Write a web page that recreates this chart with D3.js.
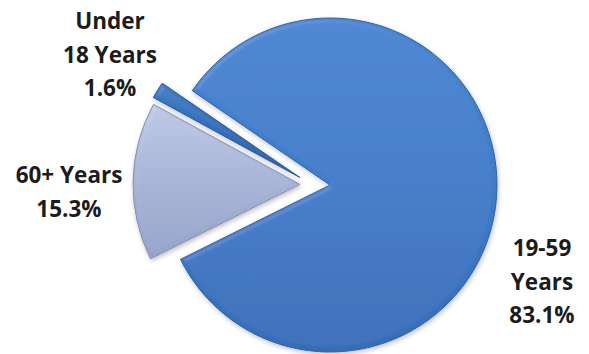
<!DOCTYPE html>
<html>
<head>
<meta charset="utf-8">
<script src="https://cdn.jsdelivr.net/npm/d3@7"></script>
<style>
  html, body { margin: 0; padding: 0; background: #fff; }
  .slice-label { font-family: "Open Sans", Lato, sans-serif; font-weight: 700; font-size: 22.5px; fill: #1c1c1c; }
</style>
</head>
<body>
<div id="chart"></div>
<script>
// data
const ageGroups = ["19-59 Years", "60+ Years", "Under 18 Years"];
const shares = [83.1, 15.3, 1.6];
const labelLines = [["19-59", "Years", "83.1%"], ["60+ Years", "15.3%"], ["Under", "18 Years", "1.6%"]];

const width = 589;
const height = 354;
const radius = 167;
const cx = 330, cy = 185;
const startDeg = -55.6;

// explode distance + direction (deg, 0 = up, clockwise); null = along bisector
const explode = [0, 30, 31];
const explodeDir = [null, null, 284];
// label anchors (middle line) relative to pie centre
const labelPos = [[212, 97], [-261, 7], [-220, -130]];
const lineHeight = 33.5;

const fills = [
  ["#4784d1", "#407cc9", "#356db6"],
  ["#bcc7e4", "#a8b4d7", "#95a3ca"],
  ["#3c79c4", "#3370bb", "#2a60a6"]
];
const strokes = ["#2d61a2", "#8290b4", "#27579a"];

const svg = d3.select("#chart")
  .append("svg")
  .attr("width", width)
  .attr("height", height);

const defs = svg.append("defs");

fills.forEach((c, i) => {
  const g = defs.append("linearGradient")
    .attr("id", "grad" + i)
    .attr("x1", 0).attr("y1", 0).attr("x2", 0).attr("y2", 1);
  g.append("stop").attr("offset", "0%").attr("stop-color", c[0]);
  g.append("stop").attr("offset", "45%").attr("stop-color", c[1]);
  g.append("stop").attr("offset", "100%").attr("stop-color", c[2]);
});

// soft bevel + shadow
const f = defs.append("filter")
  .attr("id", "bevel")
  .attr("x", "-10%").attr("y", "-10%").attr("width", "120%").attr("height", "120%");
f.append("feGaussianBlur").attr("in", "SourceAlpha").attr("stdDeviation", 2.5).attr("result", "blur");
f.append("feSpecularLighting")
  .attr("in", "blur").attr("surfaceScale", 3).attr("specularConstant", 0.5)
  .attr("specularExponent", 20).attr("lighting-color", "#ffffff").attr("result", "spec")
  .append("feDistantLight").attr("azimuth", 235).attr("elevation", 45);
f.append("feComposite").attr("in", "spec").attr("in2", "SourceAlpha").attr("operator", "in").attr("result", "specIn");
f.append("feComposite").attr("in", "SourceGraphic").attr("in2", "specIn")
  .attr("operator", "arithmetic").attr("k1", 0).attr("k2", 1).attr("k3", 0.15).attr("k4", 0).attr("result", "lit");
f.append("feGaussianBlur").attr("in", "SourceAlpha").attr("stdDeviation", 2.5).attr("result", "sh");
f.append("feOffset").attr("in", "sh").attr("dx", 1).attr("dy", 2).attr("result", "sho");
f.append("feComponentTransfer").attr("in", "sho").attr("result", "shf")
  .append("feFuncA").attr("type", "linear").attr("slope", 0.25);
const m = f.append("feMerge");
m.append("feMergeNode").attr("in", "shf");
m.append("feMergeNode").attr("in", "lit");

const rad = d => d * Math.PI / 180;

const pie = d3.pie()
  .value(d => d)
  .sort(null)
  .startAngle(rad(startDeg))
  .endAngle(rad(startDeg) + 2 * Math.PI);

const arc = d3.arc()
  .innerRadius(0)
  .outerRadius(radius);

const arcs = pie(shares);

const g = svg.append("g")
  .attr("transform", `translate(${cx}, ${cy})`);

g.selectAll("path")
  .data(arcs)
  .enter()
  .append("path")
  .attr("d", arc)
  .attr("transform", (d, i) => {
    const a = explodeDir[i] == null ? (d.startAngle + d.endAngle) / 2 : rad(explodeDir[i]);
    const dx = Math.sin(a) * explode[i];
    const dy = -Math.cos(a) * explode[i];
    return `translate(${dx}, ${dy})`;
  })
  .attr("fill", (d, i) => `url(#grad${i})`)
  .attr("stroke", (d, i) => strokes[i])
  .attr("stroke-width", 1)
  .attr("stroke-linejoin", "round")
  .attr("filter", "url(#bevel)");

const labels = g.selectAll("text.slice-label")
  .data(arcs)
  .enter()
  .append("text")
  .attr("class", "slice-label")
  .attr("text-anchor", "middle")
  .attr("x", (d, i) => labelPos[i][0])
  .attr("y", (d, i) => labelPos[i][1] - (labelLines[i].length - 1) * lineHeight / 2);

labels.selectAll("tspan")
  .data((d, i) => labelLines[i].map(t => ({ t, x: labelPos[i][0] })))
  .enter()
  .append("tspan")
  .attr("x", d => d.x)
  .attr("dy", (d, j) => j === 0 ? "0.35em" : lineHeight)
  .text(d => d.t);
</script>
</body>
</html>
